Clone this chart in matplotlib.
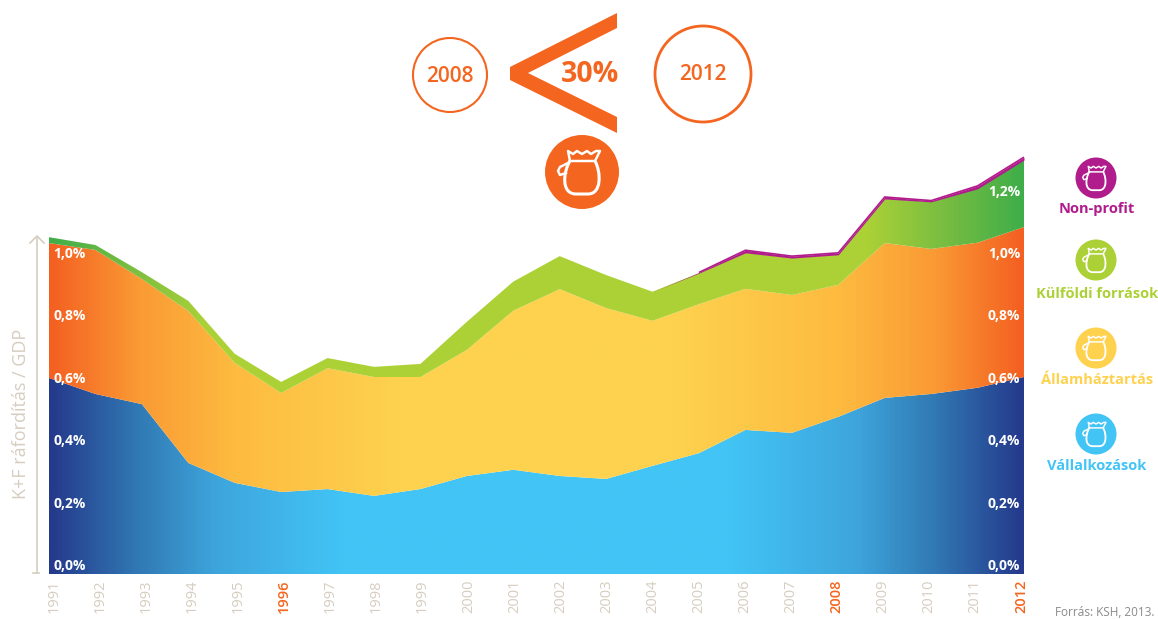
import numpy as np
import matplotlib
matplotlib.use("Agg")
import matplotlib.pyplot as plt
from matplotlib.colors import LinearSegmentedColormap
from matplotlib.patches import Circle, Polygon, PathPatch
from matplotlib.path import Path
from matplotlib.transforms import ScaledTranslation

plt.rcParams['font.family'] = ['Open Sans', 'DejaVu Sans']

# K+F spending as share of GDP (%)
years = list(range(1991, 2013))
vallalkozasok = [.600, .551, .520, .340, .279, .251, .260, .239, .260, .300, .319,
                 .300, .291, .331, .370, .441, .432, .481, .539, .551, .570, .603]
allamhaztartas = [.413, .441, .383, .465, .367, .303, .370, .364, .343, .386, .487,
                  .572, .523, .444, .456, .432, .422, .404, .474, .444, .444, .459]
kulfoldi = [.018, .015, .021, .031, .028, .034, .031, .031, .040, .086, .089,
            .101, .101, .089, .095, .110, .113, .092, .135, .144, .165, .205]
nonprofit = [0, 0, 0, 0, 0, 0, 0, 0, 0, 0, 0,
             0, 0, 0, .002, .008, .006, .006, .006, .004, .009, .009]
pct_labels = ["0,0%", "0,2%", "0,4%", "0,6%", "0,8%", "1,0%"]
red_years = [1996, 2008, 2012]
legend_names = ["Non-profit", "Külföldi források", "Államháztartás", "Vállalkozások"]

ORANGE = "#f4661f"
BEIGE = "#d6cdc0"
PURPLE = "#b11c8c"
GREEN = "#acd136"
YELLOW = "#fed24f"
BLUE = "#42c4f5"

W, H = 1158, 619
fig = plt.figure(figsize=(W / 100, H / 100), dpi=100)

# chart axes, 1991 at px 49, 2012 at px 1024, zero at px 574
PX_PER_PCT = 326.7
top_px = 150
ax = fig.add_axes([49 / W, 1 - 574 / H, (1024 - 49) / W, (574 - top_px) / H])
ax.patch.set_alpha(0)


def band_cmap(stops):
    # stops go from the edge inwards, mirrored on the right side
    left = [(p, c) for p, c in stops]
    right = [(1 - p, c) for p, c in reversed(stops)]
    return LinearSegmentedColormap.from_list("b", left + right)


blue_map = band_cmap([(0, "#253a8c"), (.09, "#3179b4"), (.17, "#3ea5dc"), (.30, BLUE)])
orange_map = band_cmap([(0, "#f46022"), (.09, "#fa9a34"), (.19, "#fdbb40"), (.36, YELLOW)])
green_map = band_cmap([(0, "#3fae49"), (.07, "#72bb42"), (.16, GREEN)])

base = np.zeros(len(years))
grad = np.linspace(0, 1, 800).reshape(1, -1)
for values, cmap in [(vallalkozasok, blue_map), (allamhaztartas, orange_map), (kulfoldi, green_map)]:
    upper = base + np.array(values)
    poly = ax.fill_between(years, base, upper, color="none", lw=0)
    im = ax.imshow(grad, cmap=cmap, extent=[1991, 2012, 0, 1.4], aspect="auto", zorder=2)
    im.set_clip_path(poly.get_paths()[0], transform=ax.transData)
    base = upper
ax.set_xlim(1991, 2012)
ax.set_ylim(0, (574 - top_px) / PX_PER_PCT)

# non-profit sliver on the top
upper = base + np.array(nonprofit)
ax.fill_between(years, base, upper, color=PURPLE, lw=0, zorder=3)
ax.plot(years[14:], upper[14:], color=PURPLE, lw=1.2, zorder=3, solid_capstyle="butt")

for s in ax.spines.values():
    s.set_visible(False)
ax.set_yticks([])
ax.set_xticks(years)
ax.set_xticklabels(years, rotation=90, fontsize=10.5)
ax.tick_params(axis="x", length=0, pad=4)
for i, (lab, y) in enumerate(zip(ax.get_xticklabels(), years)):
    # the printed labels run on a slightly tighter spacing than the areas
    dx = 5 - i * .38
    lab.set_transform(lab.get_transform() + ScaledTranslation(dx / 100, 0, fig.dpi_scale_trans))
    if y in red_years:
        lab.set_color(ORANGE)
        lab.set_fontweight("semibold")
    else:
        lab.set_color(BEIGE)

# overlay in pixel coordinates for the decoration
ov = fig.add_axes([0, 0, 1, 1])
ov.set_xlim(0, W)
ov.set_ylim(H, 0)
ov.axis("off")
ov.patch.set_alpha(0)

# white percent labels, printed inside the areas on both sides
for i, lab in enumerate(pct_labels):
    py = 566.5 - i * 62.6
    ov.text(53, py, lab, color="white", fontweight="bold", fontsize=10, ha="left", va="center")
    ov.text(1020, py, lab, color="white", fontweight="bold", fontsize=10, ha="right", va="center")
ov.text(1020, 192, "1,2%", color="white", fontweight="bold", fontsize=10, ha="right", va="center")


def bag(cx, cy, r, color):
    ov.add_patch(Circle((cx, cy), r, fc=color, ec="none"))
    s = r / 37
    lw = 2.2 * max(s, .6)
    pts = [(-12, -11), (-19, 0), (-21, 22), (-6, 22), (6, 22), (20, 22), (19, 0), (13, -11)]
    codes = [Path.MOVETO, Path.CURVE4, Path.CURVE4, Path.CURVE4, Path.LINETO, Path.CURVE4, Path.CURVE4, Path.CURVE4]
    body = Path([(cx + x * s, cy + y * s) for x, y in pts], codes)
    ov.add_patch(PathPatch(body, fc="none", ec="white", lw=lw))
    ruffle = [(-12, -11), (-14, -21), (-9, -18), (-5, -21), (0, -18), (5, -21), (9, -18), (14, -21), (18, -21), (13, -11), (-12, -11)]
    ov.plot([cx + x * s for x, y in ruffle], [cy + y * s for x, y in ruffle], color="white", lw=lw * .8)
    handle = [(-14, -9), (-22, -5), (-24, -1), (-22, 3), (-16, 1)]
    ov.plot([cx + x * s for x, y in handle], [cy + y * s for x, y in handle], color="white", lw=lw * .8)


# header
ov.add_patch(Circle((450, 75), 37, fc="none", ec=ORANGE, lw=1.5))
ov.add_patch(Circle((703, 74), 48, fc="none", ec=ORANGE, lw=2))
ov.text(450, 77, "2008", color=ORANGE, fontsize=15, fontweight="semibold", ha="center", va="center")
ov.text(703, 75, "2012", color=ORANGE, fontsize=15, fontweight="semibold", ha="center", va="center")
ov.add_patch(Polygon([(617, 13), (510, 67), (510, 80), (617, 133), (617, 117), (528, 73), (617, 28)], fc=ORANGE, ec="none"))
ov.text(590, 75, "30%", color=ORANGE, fontsize=20.5, fontweight="bold", ha="center", va="center")
bag(582, 172, 37, ORANGE)

# legend
legend_y = [178, 260, 348, 434]
text_y = [209, 294, 380, 466]
for name, c, ly, ty in zip(legend_names, [PURPLE, GREEN, YELLOW, BLUE], legend_y, text_y):
    bag(1096, ly, 20.5, c)
    ov.text(1097, ty, name, color=c, fontsize=10.5, fontweight="bold", ha="center", va="center")

# y axis arrow and label
ov.plot([37, 37], [573, 237], color=BEIGE, lw=1.2)
ov.plot([30, 37, 44], [243, 236, 243], color=BEIGE, lw=1.2)
ov.plot([33, 39], [573, 573], color=BEIGE, lw=1.2)
ov.text(21, 414, "K+F ráfordítás / GDP", color=BEIGE, fontsize=13, rotation=90, ha="center", va="center")
ov.text(1105, 613, "Forrás: KSH, 2013.", color="#8a8a8a", fontsize=8.5, ha="center", va="center")

fig.savefig("out.png", dpi=100)
